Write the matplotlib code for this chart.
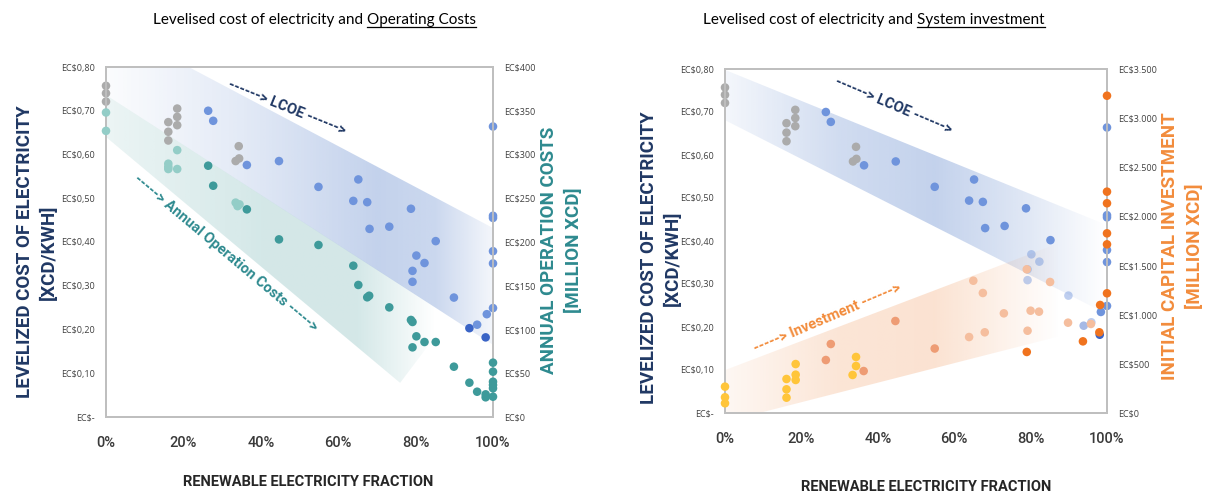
import numpy as np
import matplotlib
matplotlib.use("Agg")
import matplotlib.pyplot as plt
from matplotlib.patches import Polygon
from matplotlib.lines import Line2D

plt.rcParams['font.family'] = ['Lato', 'DejaVu Sans']
BOLDFONT = ['Roboto', 'DejaVu Sans']

# ---------------- data ----------------
# LCOE scenarios: renewable fraction, LCOE (XCD/kWh), group
lcoe_re = [0, 0, 0, .161, .161, .161, .184, .184, .184, .343, .335, .344,
           .264, .277, .364, .447, .549, .652, .639, .675, .788, .681, .732, .852,
           .802, .823, .792, .792, .899, .984, .959, 1, 1, 1, 1, 1, 1,
           .939, .981]
lcoe_val = [.757, .740, .721, .674, .652, .632, .705, .686, .667, .619, .585, .591,
            .700, .677, .576, .585, .526, .543, .494, .491, .476, .430, .435, .402,
            .369, .352, .334, .309, .273, .235, .211, .664, .460, .455, .379, .351, .249,
            .203, .182]
lcoe_group = ['fossil'] * 12 + ['hybrid'] * 25 + ['high'] * 2

# Annual operation costs (million XCD)
op_re = [0, 0, .161, .161, .161, .184, .184, .335, .345, .34,
         .264, .277, .364, .447, .549, .639, .652, .675, .68, .732, .788, .792, .802,
         .823, .852, .792, .899, .939, .959, .981, .981, 1, 1, 1, 1, 1, 1]
op_val = [348, 327, 289.5, 286, 283.4, 305, 283.4, 245, 243, 241,
          287.2, 264.3, 237.3, 203, 196.6, 172.9, 150.9, 136.8, 138.6, 125.3, 110.9, 108.6, 92.2,
          85.7, 85.7, 79.6, 57.5, 39.2, 28.9, 25.9, 22.5, 62.1, 51.8, 40.3, 36.6, 32.8, 23.2]
op_group = ['fossil'] * 10 + ['hybrid'] * 27

# Initial capital investment (million XCD)
inv_re = [0, 0, 0, .161, .161, .161, .185, .185, .185, .343, .343, .334,
          .264, .277, .363, .446, .549,
          .650, .675, .639, .680, .730, .790, .851, .800, .822, .792, .898, .958,
          .79, .937, .98, .982, 1, 1, 1, 1, 1, 1]
inv_val = [268, 160, 99, 346, 241, 156, 498, 390, 336, 570, 478, 387,
           539, 702, 427, 936, 656,
           1346, 1221, 773, 821, 1014, 1462, 1333, 1041, 1031, 837, 919, 906,
           621, 729, 821, 1099, 1218, 1716, 1828, 2134, 2252, 3228]
inv_group = ['fossil'] * 12 + ['mid'] * 5 + ['band'] * 12 + ['high'] * 10

xticks = [0, .2, .4, .6, .8, 1.0]
xtick_labels = ['0%', '20%', '40%', '60%', '80%', '100%']
lcoe_ticks = [0, .1, .2, .3, .4, .5, .6, .7, .8]
lcoe_tick_labels = ['EC$-', 'EC$0,10', 'EC$0,20', 'EC$0,30', 'EC$0,40',
                    'EC$0,50', 'EC$0,60', 'EC$0,70', 'EC$0,80']
op_ticks = [0, 50, 100, 150, 200, 250, 300, 350, 400]
op_tick_labels = ['EC$0', 'EC$50', 'EC$100', 'EC$150', 'EC$200',
                  'EC$250', 'EC$300', 'EC$350', 'EC$400']
inv_ticks = [0, 500, 1000, 1500, 2000, 2500, 3000, 3500]
inv_tick_labels = ['EC$0', 'EC$500', 'EC$1.000', 'EC$1.500', 'EC$2.000',
                   'EC$2.500', 'EC$3.000', 'EC$3.500']

# ---------------- style ----------------
NAVY = '#203864'
TEAL = '#2E8A8F'
ORANGE = '#F28C3C'
SPINE = '#BFBFBF'
TICKC = '#404040'
lcoe_colors = {'fossil': '#ABABAB', 'hybrid': '#6F94DC', 'high': '#3A64C6'}
op_colors = {'fossil': '#93CDC7', 'hybrid': '#3E9A9A'}
inv_colors = {'fossil': '#FFC53A', 'mid': '#EE9C74', 'band': '#F5BE9E', 'high': '#F0731E'}
# points washed out by the fading band in the right chart
faded_right = [(.802, .369), (.823, .352), (.792, .334), (.792, .309),
               (.899, .273), (.959, .211), (.939, .203)]

W, H = 1205, 495
fig = plt.figure(figsize=(W / 100, H / 100), dpi=100)


def style_axes(ax):
    for s in ax.spines.values():
        s.set_color(SPINE)
        s.set_linewidth(1.3)
    ax.tick_params(length=0)


def gradient_band(ax, verts, rgb, stops, zorder=0.5):
    poly = Polygon(verts, closed=True, transform=ax.transData,
                   facecolor='none', edgecolor='none')
    ax.add_patch(poly)
    xs = [v[0] for v in verts]
    ys = [v[1] for v in verts]
    x0, x1 = min(xs), max(xs)
    y0, y1 = min(ys), max(ys)
    n = 300
    t = np.linspace(x0, x1, n)
    a = np.interp(t, [s[0] for s in stops], [s[1] for s in stops])
    img = np.zeros((2, n, 4))
    img[..., 0] = rgb[0] / 255
    img[..., 1] = rgb[1] / 255
    img[..., 2] = rgb[2] / 255
    img[..., 3] = a
    im = ax.imshow(img, extent=[x0, x1, y0, y1], aspect='auto', origin='lower',
                   zorder=zorder, interpolation='bilinear')
    im.set_clip_path(poly)


def setup(ax, axr, rticks, rlabels, rmax):
    style_axes(ax)
    style_axes(axr)
    ax.set_xlim(0, 1)
    ax.set_ylim(0, 0.8)
    axr.set_ylim(0, rmax)
    ax.set_xticks(xticks)
    ax.set_xticklabels(xtick_labels, fontsize=10.5, color='#3A3A3A',
                       family=BOLDFONT, fontweight='medium')
    ax.tick_params(axis='x', pad=14)
    ax.set_yticks(lcoe_ticks)
    ax.set_yticklabels(lcoe_tick_labels, fontsize=6.5, color=TICKC, family='Open Sans')
    ax.tick_params(axis='y', pad=8)
    axr.set_yticks(rticks)
    axr.set_yticklabels(rlabels, fontsize=6.5, color=TICKC, family='Open Sans')
    axr.tick_params(axis='y', pad=8, length=0)


def scatter_lcoe(ax, alphas=None):
    for i, (x, y, g) in enumerate(zip(lcoe_re, lcoe_val, lcoe_group)):
        a = 1.0 if alphas is None else alphas[i]
        ax.scatter([x], [y], s=38, color=lcoe_colors[g], alpha=a,
                   edgecolors='none', clip_on=False, zorder=3)


# ---------------- left chart ----------------
ax1 = fig.add_axes([106 / W, 1 - 417 / H, 387 / W, 350 / H])
ax1r = ax1.twinx()
setup(ax1, ax1r, op_ticks, op_tick_labels, 400)

gradient_band(ax1, [(0, .736), (.889, .229), (.760, .078), (0, .640)],
              (60, 150, 150), [(0, .10), (.4, .22), (.65, .22), (.85, 0.0)], zorder=0.4)
gradient_band(ax1, [(0, .90), (1.0, .432), (1.0, .165), (0, .736)],
              (68, 114, 196), [(0, .02), (.35, .15), (.7, .32), (.85, .28), (1.0, .06)], zorder=0.5)

scatter_lcoe(ax1)
for x, y, g in zip(op_re, op_val, op_group):
    ax1r.scatter([x], [y], s=38, color=op_colors[g], edgecolors='none',
                 clip_on=False, zorder=3)

# ---------------- right chart ----------------
ax2 = fig.add_axes([725 / W, 1 - 413 / H, 382 / W, 344 / H])
ax2r = ax2.twinx()
setup(ax2, ax2r, inv_ticks, inv_tick_labels, 3500)

gradient_band(ax2, [(0, .798), (1.0, .437), (1.0, .230), (0, .681)],
              (68, 114, 196), [(0, .06), (.3, .25), (.55, .32), (.8, .16), (1.0, 0.0)], zorder=0.5)
gradient_band(ax2, [(-0.1, .066), (0.9, .404), (0.9, .184), (-0.1, -0.043)],
              (237, 125, 49), [(0, .06), (.3, .2), (.55, .22), (.88, 0.0)], zorder=0.5)

alphas = [0.45 if (x, y) in faded_right else 1.0 for x, y in zip(lcoe_re, lcoe_val)]
scatter_lcoe(ax2, alphas)
for x, y, g in zip(inv_re, inv_val, inv_group):
    ax2r.scatter([x], [y], s=38, color=inv_colors[g], edgecolors='none',
                 clip_on=False, zorder=3)

# ---------------- axis titles ----------------
def ftext(px, py, s, **kw):
    return fig.text(px / W, 1 - py / H, s, **kw)

lab = dict(fontsize=13.5, fontweight='bold', family=BOLDFONT, rotation=90,
           ha='center', va='center')
ftext(25, 252, 'LEVELIZED COST OF ELECTRICITY', color=NAVY, **lab)
ftext(49, 252, '[XCD/KWH]', color=NAVY, **lab)
ftext(549, 250, 'ANNUAL OPERATION COSTS', color=TEAL, **lab)
ftext(574, 250, '[MILLION XCD]', color=TEAL, **lab)
ftext(649, 258, 'LEVELIZED COST OF ELECTRICITY', color=NAVY, **lab)
ftext(673, 258, '[XCD/KWH]', color=NAVY, **lab)
ftext(1170, 246, 'INITIAL CAPITAL INVESTMENT', color=ORANGE, **lab)
ftext(1195, 246, '[MILLION XCD]', color=ORANGE, **lab)

xl = dict(fontsize=10.5, fontweight='bold', family=BOLDFONT, ha='center',
          va='center', color='#262626')
ftext(308, 482, 'RENEWABLE ELECTRICITY FRACTION', **xl)
ftext(926, 487, 'RENEWABLE ELECTRICITY FRACTION', **xl)

# ---------------- annotations ----------------
ann = dict(fontsize=10.5, fontweight='bold', family=BOLDFONT, ha='center',
           va='center', rotation_mode='anchor')
ftext(287, 108, '------> LCOE ------>', color=NAVY, rotation=-22, **ann)
ftext(226, 253, '-----> Annual Operation Costs ----->', color=TEAL, rotation=-40, **ann)
ftext(893, 106, '------> LCOE ------>', color=NAVY, rotation=-23, **ann)
ftext(827, 318, '-----> Investment ------>', color=ORANGE, rotation=23, **ann)

# ---------------- titles with underlined part ----------------
def title(px, py, plain, under):
    t1 = ftext(px, py, plain, fontsize=11, color='black', ha='left', va='baseline')
    fig.canvas.draw()
    bb = t1.get_window_extent()
    x2 = bb.x1 + 4
    t2 = fig.text(x2 / W, 1 - py / H, under, fontsize=11, color='black',
                  ha='left', va='baseline')
    fig.canvas.draw()
    bb2 = t2.get_window_extent()
    yline = (H - py - 3) / H
    fig.add_artist(Line2D([bb2.x0 / W, bb2.x1 / W], [yline, yline],
                          transform=fig.transFigure, color='black', linewidth=0.9))

title(153, 24, 'Levelised cost of electricity and', 'Operating Costs')
title(703, 24, 'Levelised cost of electricity and', 'System investment')

fig.savefig('out.png', dpi=100)
